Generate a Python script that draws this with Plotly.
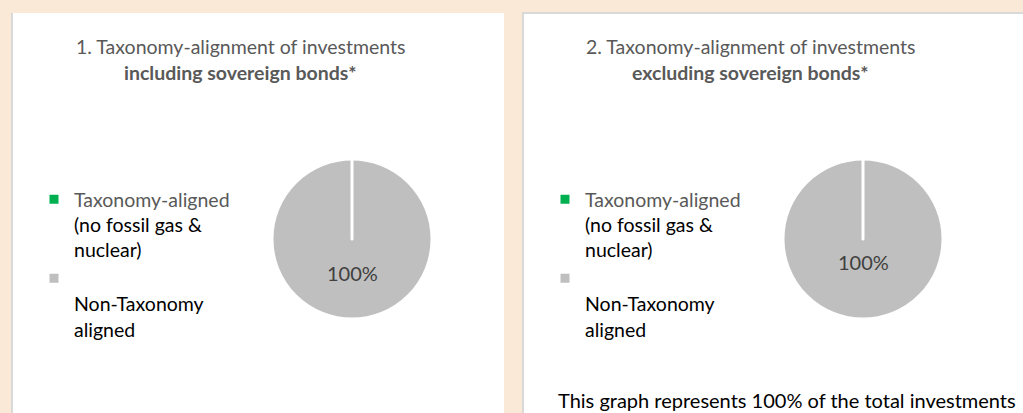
import plotly.graph_objects as go

# ---- data ----
labels = [
    "<span style='color:#595959'>Taxonomy-aligned</span><br>(no fossil gas &<br>nuclear)",
    " <br>Non-Taxonomy<br>aligned",
]
incl_values = [0, 100]   # including sovereign bonds
excl_values = [0, 100]   # excluding sovereign bonds
slice_colors = ["#00B050", "#BFBFBF"]
title_line1 = ["1. Taxonomy-alignment of investments", "2. Taxonomy-alignment of investments"]
title_line2 = ["including sovereign bonds*", "excluding sovereign bonds*"]
footnote = "This graph represents 100% of the total investments"

W, H = 1023, 413
FONT = "Lato, 'Open Sans', sans-serif"

def px(x):
    return x / W

def py(y):
    return 1 - y / H

fig = go.Figure()

pies = [(incl_values, 352, 239, "legend", "g1"), (excl_values, 863, 239, "legend2", "g2")]
R = 80
for vals, cx, cy, lg, grp in pies:
    fig.add_trace(go.Pie(
        labels=labels, values=vals, sort=True,
        marker=dict(colors=slice_colors, line=dict(color="white", width=3)),
        textinfo="none", hoverinfo="label+percent",
        domain=dict(x=[px(cx - R), px(cx + R)], y=[py(cy + R), py(cy - R)]),
        legend=lg, legendgroup=grp, showlegend=True,
    ))

BORDER = "#D9D9D9"
shapes = [
    dict(type="rect", xref="paper", yref="paper", x0=px(12), x1=px(504), y0=-0.05, y1=py(13),
         fillcolor="white", line=dict(width=0), layer="below"),
    dict(type="line", xref="paper", yref="paper", x0=px(12), x1=px(12), y0=-0.05, y1=py(13),
         line=dict(color=BORDER, width=2), layer="below"),
    dict(type="rect", xref="paper", yref="paper", x0=px(523), x1=1.01, y0=-0.05, y1=py(13),
         fillcolor="white", line=dict(color=BORDER, width=2), layer="below"),
]

TS = 19.5
annotations = []
for i, (cx_title, vals, lab_y) in enumerate([(240, incl_values, 273), (750, excl_values, 262)]):
    annotations.append(dict(x=px(cx_title), y=py(47), xref="paper", yref="paper", showarrow=False,
                            xanchor="center", yanchor="middle",
                            text=title_line1[i], font=dict(family=FONT, size=TS, color="#595959")))
    annotations.append(dict(x=px(cx_title), y=py(72), xref="paper", yref="paper", showarrow=False,
                            xanchor="center", yanchor="middle",
                            text="<b>" + title_line2[i] + "</b>", font=dict(family=FONT, size=TS, color="#595959")))
    pct = round(100 * vals[1] / sum(vals))
    cx = pies[i][1]
    annotations.append(dict(x=px(cx), y=py(lab_y), xref="paper", yref="paper", showarrow=False,
                            xanchor="center", yanchor="middle",
                            text=f"{pct}%", font=dict(family=FONT, size=20, color="#404040")))

annotations.append(dict(x=px(556), y=py(400), xref="paper", yref="paper", xanchor="left", yanchor="middle",
                        showarrow=False,
                        text=footnote, font=dict(family=FONT, size=20, color="#000000")))

legend_common = dict(xanchor="left", yanchor="top", valign="top", traceorder="reversed",
                     bgcolor="rgba(0,0,0,0)", font=dict(family=FONT, size=19.5, color="#000000"),
                     itemclick=False, itemdoubleclick=False)

fig.update_layout(
    width=W, height=H, margin=dict(l=0, r=0, t=0, b=0, pad=0, autoexpand=False),
    paper_bgcolor="#FBE9D8", plot_bgcolor="#FBE9D8",
    shapes=shapes, annotations=annotations,
    legend=dict(x=px(34), y=py(180), **legend_common),
    legend2=dict(x=px(545), y=py(180), **legend_common),
)

fig.write_html("out.html", config={"displayModeBar": False},
               post_script="document.body.style.margin='0px';document.body.style.background='#FBE9D8';")
